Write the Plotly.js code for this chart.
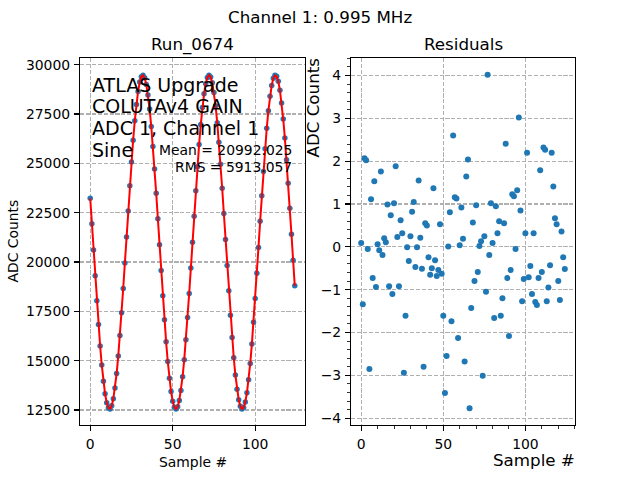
<!DOCTYPE html>
<html>
<head>
<meta charset="utf-8">
<script src="https://cdn.plot.ly/plotly-3.0.1.min.js"></script>
<style>html,body{margin:0;padding:0;background:#fff;}#chart{width:640px;height:480px;}</style>
</head>
<body>
<div id="chart"></div>
<script>
// Sample indices
const samples = Array.from({length: 125}, (_, i) => i);

// ADC counts (Run_0674)
const adcCounts = [
  23232, 21935, 20614, 19303, 18035, 16838, 15744, 14776, 13963, 13320,
  12865, 12608, 12557, 12711, 13067, 13618, 14348, 15240, 16274, 17424,
  18660, 19954, 21273, 22586, 23860, 25067, 26171, 27154, 27982, 28644,
  29118, 29396, 29467, 29334, 28998, 28466, 27754, 26874, 25853, 24716,
  23487, 22198, 20880, 19564, 18285, 17071, 15954, 14957, 14113, 13435,
  12941, 12643, 12550, 12663, 12980, 13492, 14188, 15051, 16058, 17185,
  18406, 19691, 21007, 22325, 23609, 24831, 25962, 26968, 27830, 28525,
  29039, 29356, 29470, 29377, 29081, 28588, 27910, 27064, 26071, 24953,
  23741, 22460, 21145, 19826, 18538, 17308, 16170, 15149, 14272, 13557,
  13025, 12687, 12553, 12624, 12900, 13374, 14034, 14863, 15843, 16949,
  18154, 19429, 20741, 22062, 23355, 24592, 25741, 26777, 27669, 28400,
  28951, 29308, 29463, 29412, 29157, 28702, 28061, 27247, 26280, 25187,
  23990, 22721, 21411, 20090, 18793
];

// Residuals
const residuals = [
  0.09, -1.34, 2.07, 2.02, -0.05, -2.85, 1.11, -0.73, 1.53, -0.94,
  0.06, -0.08, 1.76, -0.19, 0.20, 0.11, 0.99, -0.92, 0.74, -1.10,
  1.02, 1.88, 0.23, -0.92, 0.62, 0.32, -2.94, -1.61, -0.01, -0.33,
  0.25, 0.82, 1.05, -0.47, -0.01, 1.55, 0.21, -0.51, -2.80, 0.55,
  0.50, -0.24, -0.65, -0.50, 1.37, -0.31, -0.68, -0.54, 0.53, -0.63,
  -1.61, -3.41, -2.55, 0.01, 0.81, -1.74, 2.60, 1.16, 1.13, -2.13,
  0.04, 0.92, 0.19, -2.68, 1.64, 2.04, -3.77, -1.43, 0.57, -0.80,
  0.97, -0.59, 0.02, 0.13, -3.01, 0.25, -1.05, 4.02, -0.19, 1.02,
  0.09, -1.66, 0.95, 0.32, 0.60, -1.61, -1.20, 0.55, 2.41, -0.73,
  -2.08, -0.54, 1.23, 1.18, -0.05, 1.32, 3.02, 0.85, -1.27, -0.75,
  0.32, 2.20, -0.71, -0.45, -1.10, 0.32, -1.29, -1.36, -0.73, 1.79,
  -0.59, 2.32, 2.27, -1.27, -0.95, -0.43, 2.20, 1.41, 0.67, 0.53,
  -0.80, -1.24, 0.36, -0.24, -0.52
];

const leftYTicks = [12500, 15000, 17500, 20000, 22500, 25000, 27500, 30000];
const rightYTicks = [-4, -3, -2, -1, 0, 1, 2, 3, 4];
const xTicks = [0, 50, 100];

const infoLines = ["ATLAS Upgrade", "COLUTAv4 GAIN", "ADC 1, Channel 1", "Sine"];
const statLines = ["Mean = 20992.025", "RMS = 5913.057"];

const FONT = "DejaVu Sans, Liberation Sans, sans-serif";
const BLUE = "#1f77b4";

const traces = [
  {x: samples, y: adcCounts, type: "scatter", mode: "markers",
   marker: {color: BLUE, size: 5.5}, xaxis: "x", yaxis: "y", hoverinfo: "skip"},
  {x: samples, y: adcCounts, type: "scatter", mode: "lines",
   line: {color: "#ff0000", width: 2}, xaxis: "x", yaxis: "y", hoverinfo: "skip"},
  {x: samples, y: residuals, type: "scatter", mode: "markers",
   marker: {color: BLUE, size: 6}, xaxis: "x2", yaxis: "y2", hoverinfo: "skip"}
];

const common = {
  showgrid: true, gridcolor: "#b0b0b0", gridwidth: 1.1, griddash: "4.1px,1.8px",
  showline: true, linecolor: "#000", linewidth: 1.1, mirror: true,
  ticks: "outside", ticklen: 5, tickwidth: 1.1, tickcolor: "#000",
  tickfont: {family: FONT, size: 13.9, color: "#000"},
  zeroline: false, ticklabelstandoff: 1
};

// plot area in px: left 80..575, top 58..425
const W = 495, H = 367;
const px = v => (v - 80) / W;
const py = v => (425 - v) / H;

const annotations = [
  {text: "Channel 1: 0.995 MHz", x: px(320), y: py(17), xref: "paper", yref: "paper",
   showarrow: false, xanchor: "center", yanchor: "middle", font: {family: FONT, size: 16.7, color: "#000"}},
  {text: "Run_0674", x: px(192.5), y: py(44), xref: "paper", yref: "paper",
   showarrow: false, xanchor: "center", yanchor: "middle", font: {family: FONT, size: 16.7, color: "#000"}},
  {text: "Residuals", x: px(463), y: py(44), xref: "paper", yref: "paper",
   showarrow: false, xanchor: "center", yanchor: "middle", font: {family: FONT, size: 16.7, color: "#000"}},
  {text: "ADC Counts", x: px(12), y: py(241.5), xref: "paper", yref: "paper", textangle: -90,
   showarrow: false, xanchor: "center", yanchor: "middle", font: {family: FONT, size: 13.9, color: "#000"}},
  {text: "Sample #", x: px(192.5), y: py(462), xref: "paper", yref: "paper",
   showarrow: false, xanchor: "center", yanchor: "middle", font: {family: FONT, size: 13.9, color: "#000"}},
  {text: "ADC Counts", x: px(312), y: py(57), xref: "paper", yref: "paper", textangle: -90,
   showarrow: false, xanchor: "center", yanchor: "top", font: {family: FONT, size: 16.7, color: "#000"}},
  {text: "Sample #", x: px(576), y: py(459.5), xref: "paper", yref: "paper", borderpad: 0,
   showarrow: false, xanchor: "right", yanchor: "middle", font: {family: FONT, size: 16.7, color: "#000"}}
];

const infoY = [84.5, 106.3, 128.2, 150];
infoLines.forEach((t, i) => annotations.push({
  text: t, x: px(90), y: py(infoY[i]), xref: "paper", yref: "paper",
  showarrow: false, xanchor: "left", yanchor: "middle",
  font: {family: FONT, size: 19, color: "#000"}
}));
const statY = [149.7, 167.3];
statLines.forEach((t, i) => annotations.push({
  text: t, x: px(294), y: py(statY[i]), xref: "paper", yref: "paper",
  showarrow: false, xanchor: "right", yanchor: "middle",
  font: {family: FONT, size: 13.9, color: "#000"}
}));

const layout = {
  width: 640, height: 480,
  margin: {l: 80, r: 65, t: 58, b: 55, pad: 0},
  paper_bgcolor: "#fff", plot_bgcolor: "#fff",
  showlegend: false,
  font: {family: FONT, color: "#000"},
  xaxis: Object.assign({}, common, {domain: [0, 225 / W], range: [-6.2, 130.2],
    tickvals: xTicks, anchor: "y"}),
  yaxis: Object.assign({}, common, {domain: [0, 1], range: [11740, 30340],
    tickvals: leftYTicks, tickformat: "d", anchor: "x"}),
  xaxis2: Object.assign({}, common, {domain: [271 / W, 1], range: [-6.2, 130.2],
    tickvals: xTicks, anchor: "y2",
    minor: {dtick: 10, tick0: 0, ticks: "outside", ticklen: 2.8, tickwidth: 0.8, tickcolor: "#000", showgrid: false}}),
  yaxis2: Object.assign({}, common, {domain: [0, 1], range: [-4.16, 4.41],
    tickvals: rightYTicks, anchor: "x2",
    minor: {dtick: 0.2, tick0: 0, ticks: "outside", ticklen: 2.8, tickwidth: 0.8, tickcolor: "#000", showgrid: false}}),
  annotations: annotations
};

Plotly.newPlot("chart", traces, layout, {staticPlot: true, displayModeBar: false});
</script>
</body>
</html>
